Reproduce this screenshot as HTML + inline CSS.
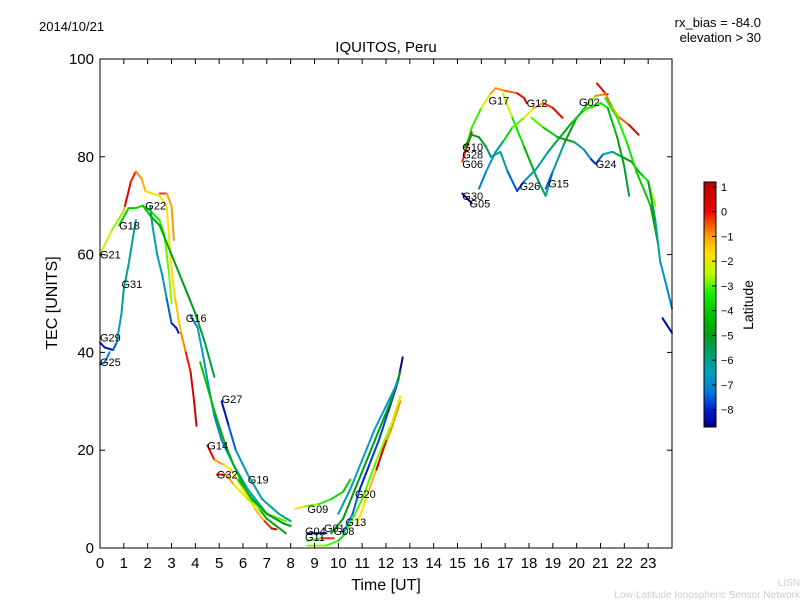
<!DOCTYPE html>
<html><head><meta charset="utf-8"><style>
body{margin:0;background:#fff;}
svg{display:block;font-family:"Liberation Sans","DejaVu Sans",sans-serif;}
</style></head><body>
<svg id="chart" width="800" height="600" viewBox="0 0 800 600">
<rect width="800" height="600" fill="#fff"/>
<text x="39" y="31" font-size="13">2014/10/21</text>
<text x="386" y="52" font-size="15" text-anchor="middle">IQUITOS, Peru</text>
<text x="761" y="27" font-size="13" text-anchor="end">rx_bias = -84.0</text>
<text x="761" y="42" font-size="13" text-anchor="end">elevation &gt; 30</text>
<text transform="translate(57,303) rotate(-90)" font-size="16" text-anchor="middle">TEC [UNITS]</text>
<text x="386" y="590" font-size="16" text-anchor="middle">Time [UT]</text>
<text x="800" y="586" font-size="10" fill="#ccc" text-anchor="end">LISN</text>
<text x="800" y="598" font-size="10" fill="#ccc" text-anchor="end">Low-Latitude Ionospheric Sensor Network</text>
<g id="marks"></g>
<g id="labels"></g>
<rect x="100" y="59" width="572" height="489" fill="none" stroke="#000" stroke-width="1"/>
<g id="axes"></g>
<defs><linearGradient id="cmapgrad" x1="0" y1="1" x2="0" y2="0"></linearGradient></defs>
<rect x="704" y="182" width="12" height="245" fill="url(#cmapgrad)" stroke="#000" stroke-width="1"/>
<g id="cbaxis"></g>
<text transform="translate(753,305) rotate(-90)" font-size="14" text-anchor="middle">Latitude</text>
</svg>
<script>
const xTicks=[0,1,2,3,4,5,6,7,8,9,10,11,12,13,14,15,16,17,18,19,20,21,22,23];
const yTicks=[0,20,40,60,80,100];
const cbTicks=[1,0,-1,-2,-3,-4,-5,-6,-7,-8];
const latMin=-8.7, latMax=1.2;
// tracks: [time UT, TEC, latitude]
const g21=[[0,60,-2],[0.5,65,-2.5],[1.0,69,-3],[1.05,70,0.5],[1.3,75,0.3],[1.5,77,-0.7],[1.75,75.5,-1],[1.9,73,-1.3],[2.2,72.5,-1.8],[2.5,72,-2],[2.8,70,-1.8],[2.95,60,-1.8],[3.05,55,-1.7],[3.15,51,-1.5],[3.4,44,-1.2],[3.6,40,-0.5],[3.8,36,0.3],[3.95,30,0.8],[4.05,25,0.8]];
const g22o=[[2.5,72.5,0.3],[2.8,72.5,-1],[3.0,70,-1],[3.1,63,-0.9]];
const g18=[[0.8,66,-4],[1.2,69.5,-4],[1.5,69.5,-4],[1.8,70,-3.5],[2.1,69,-3.5],[2.5,67,-3.3],[2.7,64,-3],[2.9,56,-2.8],[3.0,50,-2.7]];
const g16g=[[1.8,70,-4],[2.1,68,-4.5],[2.5,66,-4.6],[3.0,60,-4.8],[3.5,54,-5],[4.0,48,-5],[4.4,42,-5.2],[4.8,35,-5.5]];
const g29=[[0,42,-8],[0.2,41,-8],[0.55,40.5,-8.2],[0.7,42,-7],[0.9,48,-6],[1.0,53,-6],[1.2,58,-6],[1.4,64,-6.2],[1.5,67,-6.3]];
const g25=[[0,37.5,-7.5],[0.2,38,-7.5],[0.4,40,-7]];
const g22t=[[2.1,70,-5.5],[2.2,66,-6],[2.4,60,-6.5],[2.6,56,-6.5],[2.8,51,-7],[3.0,46,-8],[3.2,45,-8.2],[3.3,44,-8.3]];
const g16=[[3.8,47.5,-8],[4.1,45,-6.5],[4.3,40,-6.5],[4.6,32,-6.7],[4.8,27,-7],[5.1,22,-7],[5.6,17,-6.8],[6.2,12,-6.5],[7.0,7,-6.5],[7.7,5,-6.5]];
const b1=[[4.2,38,-4],[4.5,33,-4],[4.8,28,-4.5],[5.2,22,-4.5],[5.6,17,-4.5],[6.2,11,-4.5],[7.0,6,-4.7],[7.8,3,-4.8]];
const g27=[[5.1,30,-8.5],[5.4,25,-8],[5.7,20,-7],[6.2,15,-6.5],[6.8,10,-6.2],[7.5,7,-6],[8.0,5.5,-5.8]];
const g14=[[4.5,21,0.7],[4.8,18,-0.5],[5.2,17,-1.5],[5.5,16,-2],[6.0,12,-2],[6.5,8,-1.5],[6.9,5.5,-1],[7.2,4,0.5],[7.4,3.8,0.8]];
const g32=[[4.9,15,0.5],[5.3,15,-0.5],[5.6,13,-1.5],[6.2,10,-2.5],[7.0,7,-3],[7.8,5.5,-3]];
const g19=[[5.8,14,-4],[6.4,10,-4.5],[7.0,7,-5],[7.7,5,-5],[8.0,4.5,-5]];
const g04=[[8.7,3,-8.5],[9.5,3,-8]];
const g11=[[8.7,1.5,-7],[9.3,2,0.5],[9.8,2,-1]];
const g11b=[[8.7,0.5,-3],[9.5,0.5,-2.5],[10.0,1.5,-3.5],[10.3,3,-4]];
const g09=[[8.2,8,-1],[8.6,8.5,-2.5],[9.2,9,-3],[9.7,10,-3.5],[10.2,11.5,-4],[10.5,14,-4]];
const g20=[[10.2,3,-7],[10.6,7,-7],[10.9,12,-8],[11.3,17,-8],[11.7,22,-7.5],[12.1,28,-8],[12.5,34,-8.5],[12.7,39,-8.7]];
const r2=[[9.7,3,-5],[10.2,6,-5],[10.7,12,-5],[11.2,18,-5],[11.7,24,-5],[12.2,30,-5],[12.6,36,-5]];
const r3=[[10.0,7,-6],[10.5,12,-6.5],[11.0,18,-6.5],[11.5,24,-6.5],[12.0,29,-6.5],[12.5,34,-6.8]];
const r4=[[10.8,5,-2],[11.3,12,-1.5],[11.8,19,-1],[12.2,24,-1],[12.6,30,-0.8]];
const r5=[[11.6,16,0.5],[12.0,22,0.7]];
const g13=[[10.4,4,-3],[11.0,10,-3],[11.6,18,-3],[12.2,25,-2.5],[12.6,31,-2]];
const g17=[[15.3,81,-3.5],[15.6,86,-3.3],[16.0,90,-3],[16.4,93,-1.5],[16.6,94,-0.5],[17.0,93.5,-1.2],[17.5,93,0],[17.8,92,0.5],[17.9,91,0.7]];
const g17d=[[16.9,93,-2],[17.3,88,-3],[17.8,82,-4],[18.3,76,-5],[18.7,72,-6],[19.0,77,-6.5]];
const g15=[[18.7,73.5,-8.5],[19.0,77,-6.5],[19.5,83,-5.5],[20.0,88,-4.5],[20.5,91,-3.5],[20.8,92.5,-2],[21.2,92.8,0.3],[21.3,92.8,0.5]];
const g12=[[16.9,83,-4],[17.3,86,-3.5],[17.8,88,-2.5],[18.2,90,-1.5],[18.6,91,-0.5],[19.0,90,0],[19.4,88,0.7]];
const e5=[[18.1,88,-2.5],[18.6,86,-3.5],[19.2,84,-4.5],[19.9,83,-5.5],[20.3,81.5,-6.5],[20.6,79.5,-7.5],[20.8,78.5,-8.5]];
const g24=[[20.8,78.5,-8],[21.1,80.5,-7],[21.5,81,-6],[21.9,80,-5],[22.3,79,-5],[22.6,77,-4.5],[22.8,76,-4],[23.0,75,-3],[23.3,70,-2.5]];
const g02=[[20.6,90,-3.5],[21.0,91,-3],[21.3,90,-4],[21.7,84,-4.5],[22.0,78,-5],[22.2,72,-5.5]];
const e8=[[20.85,95,0.7],[21.2,93,-0.5],[21.5,90,-1],[21.8,88,-1.5],[22.2,86.5,0.3],[22.6,84.5,0.7]];
const e9=[[21.2,92,-3.5],[21.7,88,-3],[22.1,83,-3.5],[22.5,77,-3.5],[23.1,70,-4.5],[23.4,62.6,-5]];
const e10=[[23.0,75,-5],[23.3,67,-5.5],[23.5,58.7,-6.5],[23.8,53,-7],[24,49,-7]];
const e11=[[23.6,47,-8.5],[24,44,-8.5]];
const g06=[[15.2,79,-0.8],[15.4,82,0.3],[15.6,85,0.5]];
const g28=[[15.3,82,-4.5],[15.6,84.5,-4.8],[15.9,84,-5],[16.2,82,-5.3],[16.4,80,-5.6],[16.8,81,-6],[17.1,77,-6.5],[17.5,73,-8.5]];
const g26=[[17.5,73,-8.5],[17.8,75,-7],[18.3,77.5,-6.5],[18.8,81,-6],[19.3,84,-5],[19.8,87,-4.5],[20.3,89.5,-3.5],[20.7,90.5,-3]];
const g30=[[15.9,73.5,-7.5],[16.2,77,-7],[16.6,81,-6.5],[16.9,83,-5.5]];
const g05=[[15.2,72.5,-8.5],[15.5,71,-8.7],[15.6,70.5,-8.7]];
const tracks=[g21,g22o,g18,g16g,g29,g25,g22t,g16,b1,g27,g14,g32,g19,g04,g11b,g11,g09,g20,r2,r3,r4,r5,g13,g17,g17d,g15,g12,e5,g24,g02,e8,e9,e10,e11,g06,g28,g26,g30,g05];
const labelNames=["G21","G18","G22","G31","G29","G25","G16","G27","G14","G32","G19","G09","G04","G11","G01","G08","G20","G13","G10","G28","G06","G30","G05","G17","G12","G26","G15","G02","G24"];
const labelT=[0.0,0.8,1.9,0.9,0.0,0.0,3.6,5.1,4.5,4.9,6.2,8.7,8.6,8.6,9.4,9.8,10.7,10.3,15.2,15.2,15.2,15.2,15.5,16.3,17.9,17.6,18.8,20.1,20.8];
const labelV=[60,66,70,54,43,38,47,30.5,21,15,14,8,3.5,2.2,4.1,3.5,11,5.3,82,80.5,78.5,72,70.5,91.5,91,74,74.5,91.2,78.5];

const X0=100,X1=672,Y0=548,Y1=59;
const xs=t=>X0+t*(X1-X0)/24;
const ys=v=>Y0-v*(Y0-Y1)/100;
const cs=l=>427-(l-latMin)*(427-182)/(latMax-latMin);
// colormap stops keyed by latitude
const cmapLat=[-8.7,-8.0,-7.3,-6.5,-5.7,-5.0,-4.3,-3.3,-2.5,-1.7,-1.0,0.0,1.2];
const cmapRGB=[[0,0,130],[0,30,210],[0,120,220],[0,160,190],[0,160,110],[0,155,20],[0,185,0],[20,240,0],[190,250,0],[255,225,0],[255,160,0],[230,10,0],[185,0,0]];
function cmap(l){
 if(l<=cmapLat[0])return `rgb(${cmapRGB[0]})`;
 for(let i=0;i<cmapLat.length-1;i++){
  if(l<=cmapLat[i+1]){const f=(l-cmapLat[i])/(cmapLat[i+1]-cmapLat[i]);
   const c=cmapRGB[i].map((v,k)=>Math.round(v+(cmapRGB[i+1][k]-v)*f));return `rgb(${c})`;}
 }
 return `rgb(${cmapRGB[cmapRGB.length-1]})`;
}
const NS="http://www.w3.org/2000/svg";
function mk(tag,attrs,parent){const e=document.createElementNS(NS,tag);for(const k in attrs)e.setAttribute(k,attrs[k]);parent.appendChild(e);return e;}
const grad=document.getElementById('cmapgrad');
cmapLat.forEach(l=>{mk('stop',{offset:((l-latMin)/(latMax-latMin)).toFixed(3),'stop-color':cmap(l)},grad);});
const marks=document.getElementById('marks');
tracks.forEach((tr,ti)=>{
 for(let i=0;i<tr.length-1;i++){
  const a=tr[i],b=tr[i+1];
  const seg=mk('line',{x1:xs(a[0]).toFixed(1),y1:ys(a[1]).toFixed(1),x2:xs(b[0]).toFixed(1),y2:ys(b[1]).toFixed(1),stroke:cmap((a[2]+b[2])/2),'stroke-width':2,'stroke-linecap':'round'},marks);
  
  
 }
});
const labels=document.getElementById('labels');
labelNames.forEach((n,i)=>{
 const t=mk('text',{x:xs(labelT[i]).toFixed(1),y:(ys(labelV[i])+4).toFixed(1),'font-size':11},labels);
 t.textContent=n;
 
 
});
const axes=document.getElementById('axes');
xTicks.forEach(t=>{
 const x=xs(t);
 const a=mk('line',{x1:x,y1:Y0,x2:x,y2:Y0-5,stroke:'#000'},axes);
 const b=mk('line',{x1:x,y1:Y1,x2:x,y2:Y1+5,stroke:'#000'},axes);
 const l=mk('text',{x:x,y:568,'font-size':15,'text-anchor':'middle'},axes);l.textContent=t;
 
 
});
yTicks.forEach(v=>{
 const y=ys(v);
 const a=mk('line',{x1:X0,y1:y,x2:X0+5,y2:y,stroke:'#000'},axes);
 const b=mk('line',{x1:X1,y1:y,x2:X1-5,y2:y,stroke:'#000'},axes);
 const l=mk('text',{x:94,y:y+5,'font-size':15,'text-anchor':'end'},axes);l.textContent=v;
 
 
});
const cb=document.getElementById('cbaxis');
cbTicks.forEach(v=>{
 const y=cs(v);
 const a=mk('line',{x1:712,y1:y,x2:716,y2:y,stroke:'#000'},cb);
 const l=mk('text',{x:721,y:y+4,'font-size':11},cb);l.textContent=v<0?'\u2212'+(-v):v;
 
 
});
</script>
</body></html>
